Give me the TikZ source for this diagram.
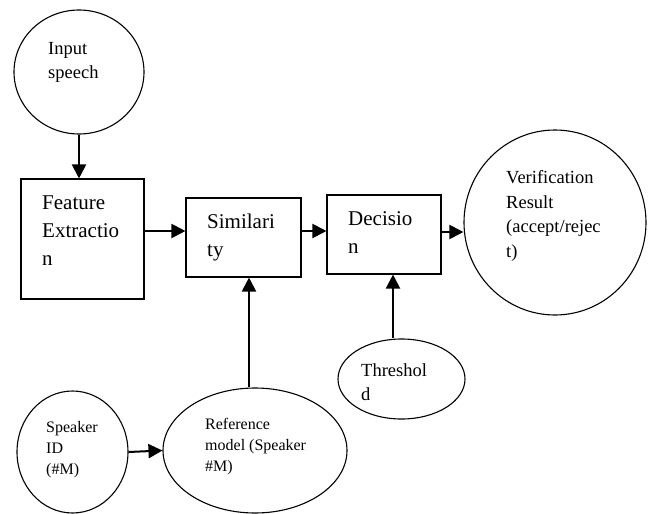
\documentclass[tikz,border=0pt]{standalone}
\usepackage{fontspec}
\setmainfont{Liberation Serif}
\usetikzlibrary{arrows.meta,shapes.geometric}

\begin{document}
\begin{tikzpicture}[x=1pt,y=-1pt,
        blk/.style={draw,line width=1.1pt,rectangle,inner sep=0pt},
        oval/.style={draw,line width=1.1pt,ellipse,inner sep=0pt},
        txt/.style={anchor=north west,inner sep=0pt,align=left},
        big/.style={txt,font=\fontsize{21}{28}\selectfont},
        mid/.style={txt,font=\fontsize{18.5}{24.5}\selectfont},
        sml/.style={txt,font=\fontsize{16}{21}\selectfont},
        arr/.style={line width=2pt,-{Triangle[length=14pt,width=14pt]}}]
        \useasboundingbox (0,0) rectangle (651,514);
        \node[oval,minimum width=130pt,minimum height=124pt] (inp) at (79,72) {};
        \node[blk,minimum width=123pt,minimum height=120pt] (feat) at (82.5,239) {};
        \node[blk,minimum width=115pt,minimum height=79pt] (sim) at (243.5,237.5) {};
        \node[blk,minimum width=114pt,minimum height=79pt] (dec) at (384,234.5) {};
        \node[oval,minimum width=182pt,minimum height=185pt] (ver) at (555,222.5) {};
        \node[oval,minimum width=127pt,minimum height=80pt] (thr) at (401.5,379) {};
        \node[oval,minimum width=184pt,minimum height=125pt] (refm) at (255,450.5) {};
        \node[oval,minimum width=111pt,minimum height=122pt] (spk) at (72.5,452) {};

        \node[mid] (inptxt) at (48,42) {Input\\speech};
        \node[big] (feattxt) at (42,195.7) {Feature\\Extractio\\n};
        \node[big] (simtxt) at (207,213.7) {Similari\\ty};
        \node[big] (dectxt) at (348,211.7) {Decisio\\n};
        \node[mid] (vertxt) at (506,170.4) {Verification\\Result\\(accept/rejec\\t)};
        \node[mid] (thrtxt) at (361,363.4) {Threshol\\d};
        \node[sml] (reftxt) at (205,418) {Reference\\model (Speaker\\\#M)};
        \node[sml] (spktxt) at (46,421) {Speaker\\ID\\(\#M)};

        \coordinate (row) at (0,231);
        \coordinate (refup) at (249,0);
        \coordinate (thrup) at (393,0);
        \draw[arr] (inp.south) -- (inp.south |- feat.north);
        \draw[arr] (feat.east |- row) -- (sim.west |- row);
        \draw[arr] (sim.east |- row) -- (dec.west |- row);
        \draw[arr] ([yshift=-1pt]dec.east |- row) -- ([yshift=-1pt]ver.west |- row);
        \draw[arr] (thr.north -| thrup) -- (dec.south -| thrup);
        \draw[arr] (refm.north -| refup) -- (sim.south -| refup);
        \draw[arr] (spk.east) -- (refm.west);
      \end{tikzpicture}
\end{document}
